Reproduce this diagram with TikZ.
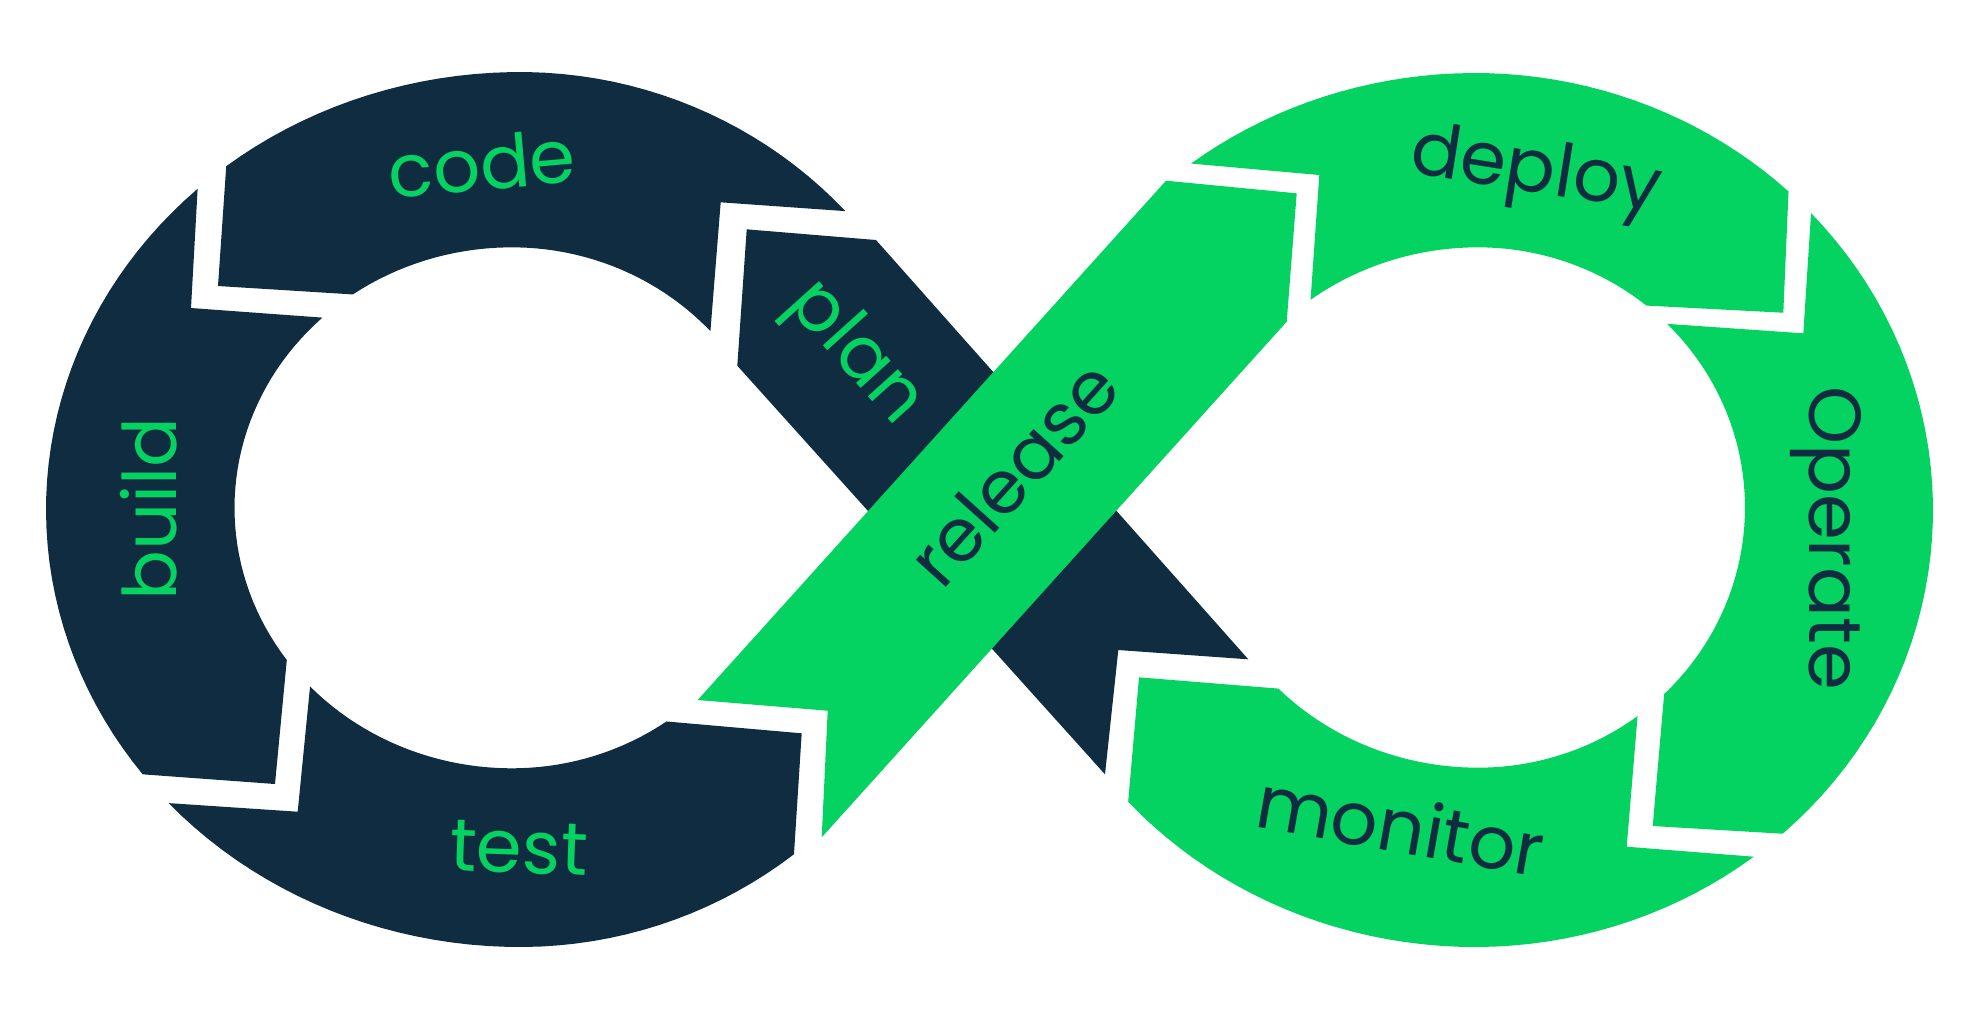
\documentclass[tikz,border=0pt]{standalone}
\usepackage{fontspec}
\setmainfont{Poppins}
\definecolor{loopnavy}{HTML}{0F2C40}
\definecolor{loopgreen}{HTML}{04D361}

\begin{document}
\begin{tikzpicture}[x=0.01cm, y=-0.01cm, samples=40,
          declare function={
            lox(\t)=520+ifthenelse(cos(\t)>0,445,474)*cos(\t);  loy(\t)=509.5+437.5*sin(\t);
            lix(\t)=512+ifthenelse(cos(\t)>0,270,277.5)*cos(\t); liy(\t)=507.8+260.5*sin(\t);
            rox(\t)=1475+ifthenelse(cos(\t)>0,458,466)*cos(\t); roy(\t)=510+437*sin(\t);
            rix(\t)=1478+ifthenelse(cos(\t)>0,267,278)*cos(\t); riy(\t)=507.5+260.2*sin(\t);
          },
          darkseg/.style={fill=loopnavy},
          greenseg/.style={fill=loopgreen},
          lbl/.style={font=\fontsize{21}{24}\selectfont, anchor=base},
          ondark/.style={lbl, text=loopgreen},
          ongreen/.style={lbl, text=loopnavy}
        ]
        \useasboundingbox (0,0) rectangle (1982,1020);
        % left loop
        \fill[darkseg] (191,308) -- plot[domain=226.9:144.25] ({lix(\x)},{liy(\x)}) -- (275,784)
          -- plot[domain=142.75:227.15] ({lox(\x)},{loy(\x)}) -- cycle;
        \fill[darkseg] (218,286) -- plot[domain=231.7:317] ({lox(\x)},{loy(\x)}) -- (720.7,202.3)
          -- plot[domain=317.3:235] ({lix(\x)},{liy(\x)}) -- cycle;
        \fill[darkseg] (297.7,811.7) -- plot[domain=136.7:55.1] ({lix(\x)},{liy(\x)}) -- (801.7,733.3)
          -- plot[domain=52:137.85] ({lox(\x)},{loy(\x)}) -- cycle;
        \fill[darkseg] (746.7,229.3) -- (876,240) -- (1248.3,659.3) -- (1118.3,650) -- (1105,774.3) -- (737.3,365.7) -- cycle;
        % right loop
        \fill[greenseg] (1319.3,175) -- plot[domain=232.45:313.2] ({rox(\x)},{roy(\x)}) -- (1783.3,312.7)
          -- plot[domain=309.1:232.96] ({rix(\x)},{riy(\x)}) -- cycle;
        \fill[greenseg] (1803.3,333.3) -- plot[domain=315.1:405.8] ({rix(\x)},{riy(\x)}) -- (1652.7,826)
          -- plot[domain=47.8:-42.8] ({rox(\x)},{roy(\x)}) -- cycle;
        \fill[greenseg] (1139,677.3) -- plot[domain=135.9:53.3] ({rix(\x)},{riy(\x)}) -- (1626.7,846.7)
          -- plot[domain=52.5:138.1] ({rox(\x)},{roy(\x)}) -- cycle;
        \fill[greenseg] (697.7,700) -- (1166,180.7) -- (1296.7,193.3) -- (1286.7,321.7) -- (821.7,837.3) -- (827.7,710.7) -- cycle;
        % labels
        \node[ondark, rotate=5] (code) at (484,190) {code};
        \node[ondark, rotate=90] (build) at (176,509) {build};
        \node[ondark, rotate=-2] (test) at (518,873) {test};
        \node[ondark, rotate=-48] (plan) at (841,366) {plan};
        \node[ongreen, rotate=48] (release) at (1033,491) {release};
        \node[ongreen, rotate=-9] (deploy) at (1533,192) {deploy};
        \node[ongreen, rotate=-90] (operate) at (1809,538) {Operate};
        \node[ongreen, rotate=-10] (monitor) at (1396,852) {monitor};
      \end{tikzpicture}
\end{document}
